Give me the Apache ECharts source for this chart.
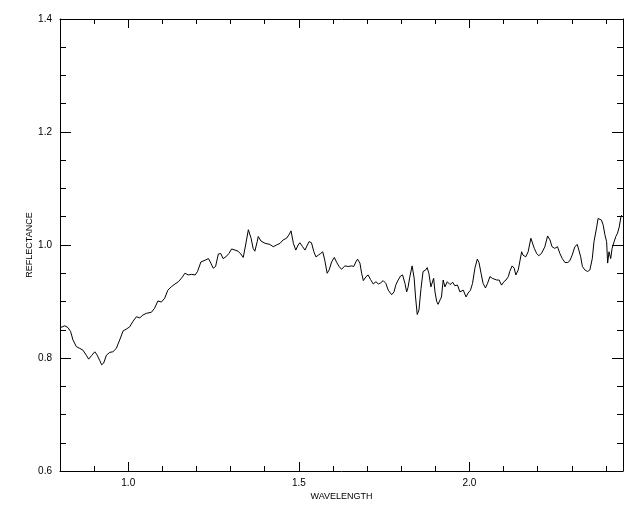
<!DOCTYPE html>
<html>
<head>
<meta charset="utf-8">
<script src="https://cdn.jsdelivr.net/npm/echarts@6/dist/echarts.min.js"></script>
<style>
html,body{margin:0;padding:0;background:#fff;}
#chart{width:640px;height:512px;}
</style>
</head>
<body>
<div id="chart"></div>
<script>
const wavelength = [0.802,0.814,0.823,0.831,0.838,0.848,0.858,0.867,0.877,0.884,0.892,0.902,0.909,0.916,0.922,0.928,0.936,0.946,0.955,0.965,0.975,0.985,0.994,1.004,1.014,1.024,1.034,1.043,1.053,1.068,1.077,1.087,1.097,1.107,1.116,1.126,1.137,1.147,1.157,1.166,1.176,1.186,1.196,1.203,1.213,1.225,1.235,1.242,1.249,1.256,1.264,1.271,1.278,1.286,1.295,1.303,1.313,1.322,1.330,1.337,1.344,1.352,1.360,1.366,1.371,1.378,1.381,1.389,1.401,1.415,1.425,1.435,1.445,1.454,1.464,1.472,1.477,1.484,1.491,1.498,1.503,1.511,1.518,1.525,1.530,1.537,1.544,1.550,1.557,1.564,1.570,1.576,1.583,1.589,1.596,1.604,1.611,1.618,1.625,1.635,1.645,1.655,1.661,1.667,1.672,1.679,1.684,1.689,1.697,1.703,1.710,1.718,1.726,1.733,1.740,1.747,1.755,1.762,1.772,1.779,1.784,1.791,1.798,1.804,1.811,1.816,1.820,1.825,1.832,1.838,1.842,1.847,1.852,1.858,1.864,1.872,1.876,1.881,1.887,1.891,1.895,1.899,1.904,1.908,1.914,1.918,1.923,1.928,1.935,1.943,1.951,1.957,1.965,1.972,1.982,1.990,1.996,2.003,2.009,2.016,2.023,2.028,2.034,2.040,2.047,2.053,2.060,2.067,2.072,2.080,2.087,2.094,2.101,2.107,2.114,2.118,2.125,2.131,2.136,2.143,2.153,2.157,2.165,2.172,2.180,2.184,2.190,2.197,2.203,2.211,2.221,2.229,2.236,2.242,2.250,2.258,2.265,2.272,2.280,2.288,2.294,2.301,2.309,2.316,2.321,2.326,2.331,2.338,2.346,2.353,2.360,2.365,2.373,2.377,2.382,2.387,2.392,2.397,2.402,2.405,2.409,2.414,2.418,2.424,2.429,2.434,2.439,2.444,2.446];

const reflectance = [0.854,0.857,0.854,0.847,0.832,0.820,0.817,0.814,0.805,0.798,0.804,0.811,0.805,0.796,0.788,0.791,0.805,0.810,0.811,0.817,0.832,0.848,0.851,0.855,0.865,0.873,0.871,0.876,0.879,0.881,0.888,0.901,0.899,0.906,0.920,0.926,0.931,0.935,0.942,0.950,0.947,0.948,0.947,0.953,0.970,0.973,0.976,0.968,0.959,0.962,0.984,0.985,0.976,0.979,0.985,0.993,0.991,0.989,0.984,0.978,1.000,1.027,1.012,0.994,0.989,1.006,1.015,1.007,1.003,1.001,0.997,1.000,1.003,1.009,1.012,1.019,1.025,1.003,0.991,1.000,1.004,0.997,0.991,1.000,1.006,1.004,0.988,0.979,0.982,0.985,0.988,0.973,0.950,0.956,0.970,0.978,0.969,0.962,0.957,0.963,0.962,0.963,0.962,0.970,0.975,0.968,0.950,0.937,0.944,0.947,0.939,0.931,0.935,0.931,0.933,0.937,0.932,0.920,0.912,0.917,0.929,0.938,0.945,0.947,0.932,0.917,0.925,0.943,0.963,0.941,0.908,0.877,0.885,0.923,0.953,0.956,0.960,0.950,0.926,0.923,0.941,0.917,0.900,0.895,0.903,0.908,0.938,0.926,0.935,0.930,0.934,0.928,0.929,0.917,0.920,0.908,0.915,0.920,0.932,0.959,0.975,0.969,0.950,0.932,0.924,0.932,0.944,0.941,0.942,0.938,0.938,0.929,0.935,0.938,0.944,0.953,0.963,0.959,0.947,0.956,0.988,0.982,0.979,0.988,1.012,1.009,0.994,0.985,0.981,0.985,0.997,1.016,1.009,0.997,0.994,0.997,0.985,0.976,0.969,0.969,0.972,0.982,0.997,1.001,0.999,0.979,0.962,0.956,0.953,0.956,0.976,1.006,1.032,1.047,1.048,1.044,1.035,1.018,1.006,0.968,0.988,0.976,0.994,1.006,1.015,1.021,1.032,1.050,1.053];

const xRange = [0.8, 2.45];
const yRange = [0.6, 1.4];
const xMajorTicks = [1.0, 1.5, 2.0];
const xMinorTicks = [0.9, 1.1, 1.2, 1.3, 1.4, 1.6, 1.7, 1.8, 1.9, 2.1, 2.2, 2.3, 2.4];
const yMajorTicks = [0.6, 0.8, 1.0, 1.2, 1.4];
const yMinorTicks = [0.65, 0.7, 0.75, 0.85, 0.9, 0.95, 1.05, 1.1, 1.15, 1.25, 1.3, 1.35];
const xTitle = 'WAVELENGTH';
const yTitle = 'REFLECTANCE';

const n = Math.min(wavelength.length, reflectance.length);
const points = [];
for (let i = 0; i < n; i++) points.push([wavelength[i], reflectance[i]]);

const FONT = 'Liberation Sans';
const black = '#000';

function xAx(pos, ticks, len, showLine, labels) {
  return {
    type: 'value', position: pos, min: xRange[0], max: xRange[1],
    axisLine: { show: showLine, onZero: false, lineStyle: { color: black, width: 1 } },
    axisTick: { show: true, inside: true, length: len, customValues: ticks, lineStyle: { color: black, width: 1 } },
    axisLabel: labels ? { show: true, customValues: ticks, margin: 7, color: black, fontFamily: FONT, fontSize: 10, formatter: v => Number(v).toFixed(1) } : { show: false },
    splitLine: { show: false },
    name: labels ? xTitle : '', nameLocation: 'middle', nameGap: 21, nameMoveOverlap: false,
    nameTextStyle: { color: black, fontFamily: FONT, fontSize: 9 }
  };
}
function yAx(pos, ticks, len, showLine, labels) {
  return {
    type: 'value', position: pos, min: yRange[0], max: yRange[1],
    axisLine: { show: showLine, onZero: false, lineStyle: { color: black, width: 1 } },
    axisTick: { show: true, inside: true, length: len, customValues: ticks, lineStyle: { color: black, width: 1 } },
    axisLabel: labels ? { show: true, customValues: ticks, margin: 8, color: black, fontFamily: FONT, fontSize: 10, formatter: v => Number(v).toFixed(1) } : { show: false },
    splitLine: { show: false },
    name: labels ? yTitle : '', nameLocation: 'middle', nameGap: 26, nameRotate: 90, nameMoveOverlap: false,
    nameTextStyle: { color: black, fontFamily: FONT, fontSize: 9 }
  };
}

const chart = echarts.init(document.getElementById('chart'), null, { renderer: 'canvas' });
chart.setOption({
  animation: false,
  backgroundColor: '#fff',
  grid: { left: 60, right: 17, top: 19, bottom: 41, containLabel: false },
  xAxis: [
    xAx('bottom', xMajorTicks, 9, true, true),
    xAx('bottom', xMinorTicks, 5, false, false),
    xAx('top', xMajorTicks, 9, true, false),
    xAx('top', xMinorTicks, 5, false, false)
  ],
  yAxis: [
    yAx('left', yMajorTicks, 11, true, true),
    yAx('left', yMinorTicks, 6, false, false),
    yAx('right', yMajorTicks, 11, true, false),
    yAx('right', yMinorTicks, 6, false, false)
  ],
  series: [{
    type: 'line', xAxisIndex: 0, yAxisIndex: 0, data: points,
    showSymbol: false, symbol: 'none', smooth: false,
    lineStyle: { color: black, width: 1 }
  }]
});
</script>
</body>
</html>
